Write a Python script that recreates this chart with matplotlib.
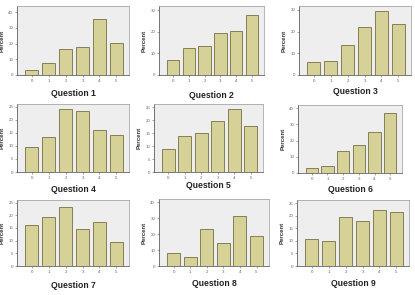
import numpy as np
import matplotlib.pyplot as plt

plt.rcParams["font.family"] = ["Liberation Sans", "DejaVu Sans"]

# ----------------------------------------------------
# Data (percent per answer level)
# ----------------------------------------------------

levels = [0, 1, 2, 3, 4, 5]

q1 = [2.9, 7.5, 16.7, 18.1, 36.0, 20.2]
q2 = [6.9, 12.7, 13.4, 19.4, 20.6, 27.8]
q3 = [5.8, 6.5, 13.8, 22.3, 29.7, 23.5]
q4 = [9.6, 13.5, 24.1, 23.5, 16.1, 14.2]
q5 = [8.7, 13.9, 15.2, 19.8, 24.4, 17.7]
q6 = [3.3, 4.1, 13.5, 17.6, 25.1, 36.9]
q7 = [16.0, 19.2, 23.3, 14.7, 17.3, 9.3]
q8 = [8.0, 5.4, 23.2, 14.2, 31.2, 18.6]
q9 = [10.6, 9.8, 19.4, 17.9, 22.2, 21.4]

titles = ["Question %d" % i for i in range(1, 10)]
series = [q1, q2, q3, q4, q5, q6, q7, q8, q9]
y_tops = [44, 32, 31.8, 26, 26.2, 42, 26, 42, 26.3]
y_steps = [10, 10, 10, 5, 5, 10, 5, 10, 5]

# ----------------------------------------------------
# Layout in pixels: (left, right, top, bottom, title_y)
# ----------------------------------------------------

W, H = 415, 295

boxes = [
    (17, 129, 6, 75, 93),
    (159, 264, 6, 75, 95),
    (299, 411, 6, 75, 91),
    (17, 129, 104, 172, 189),
    (154, 263, 104, 172, 186),
    (298, 402, 105, 173, 189),
    (17, 129, 200, 266, 285),
    (159, 269, 199, 266, 284),
    (297, 409, 200, 266, 283),
]

fig = plt.figure(figsize=(W / 100, H / 100), dpi=100)
fig.patch.set_facecolor("white")

for vals, title, top, step, (l, r, t, b, ty) in zip(
    series, titles, y_tops, y_steps, boxes
):
    ax = fig.add_axes([l / W, 1 - b / H, (r - l) / W, (b - t) / H])
    ax.set_facecolor("#EEEEEE")

    ax.bar(
        levels,
        vals,
        width=0.78,
        color="#D6D196",
        edgecolor="#847F56",
        linewidth=0.7,
        zorder=2
    )

    ax.set_xlim(-0.88, 5.75)
    ax.set_ylim(0, top)
    ax.set_yticks(np.arange(0, top, step))
    ax.set_xticks(levels)

    ax.tick_params(
        labelsize=3.2,
        colors="#666666",
        length=1.5,
        width=0.4,
        pad=1.2
    )

    for s in ax.spines.values():
        s.set_color("#999999")
        s.set_linewidth(0.5)
    ax.spines["left"].set_color("#444444")
    ax.spines["bottom"].set_color("#444444")

    ax.set_ylabel("Percent", fontsize=4.3, fontweight="bold",
                  color="#333333")
    # label centre sits about 12 px left of the axis
    ax.yaxis.set_label_coords(-12 / (r - l), 0.5)

    fig.text((l + r) / 2 / W, 1 - ty / H, title, ha="center",
             va="center", fontsize=6.2, fontweight="bold", color="#222222")

fig.savefig("out.png", dpi=100)
